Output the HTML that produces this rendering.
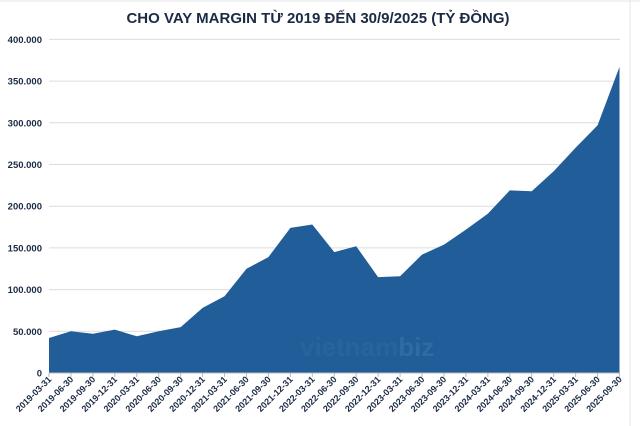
<!DOCTYPE html>
<html><head><meta charset="utf-8"><style>
html,body{margin:0;padding:0;background:#fff;}
body{width:640px;height:426px;overflow:hidden;font-family:"Liberation Sans",Arial,sans-serif;}
</style></head><body>
<svg id="s" width="640" height="426" xmlns="http://www.w3.org/2000/svg" style="display:block">
<rect x="0" y="0" width="640" height="426" fill="#fff"/>
<line x1="0" y1="1" x2="640" y2="1" stroke="#e6e6e6"/>
<line x1="630" y1="0" x2="630" y2="426" stroke="#e6e6e6"/>
<text x="318" y="23" text-anchor="middle" font-family="Liberation Sans, Arial, sans-serif" font-weight="bold" font-size="15" fill="#1b2a45">CHO VAY MARGIN TỪ 2019 ĐẾN 30/9/2025 (TỶ ĐỒNG)</text>
<g id="g"></g>
</svg>
<script>
var vals=[42,50,47,52,44,50,55,78,92,125,139,174,178,145,152,115,116,142,154,172,191,219,218,242,270,297,367];
var labs=[];for(var y=2019;y<=2025;y++){["03-31","06-30","09-30","12-31"].forEach(function(q){labs.push(y+"-"+q)})}
labs=labs.slice(0,27);
var x0=49,x1=619.5,step=(x1-x0)/26,base=373,k=41.7/50;
var h='';
for(var i=0;i<=8;i++){var yy=base-i*50*k;h+='<line x1="49" x2="620" y1="'+yy+'" y2="'+yy+'" stroke="#dcdcdc" stroke-width="1"/>';
h+='<text x="42" y="'+(yy+3.5)+'" text-anchor="end" font-size="9.5" font-weight="bold" fill="#1b2a45">'+(i==0?'0':(i*50)+'.000')+'</text>';}
var p='M'+x0+','+base;
vals.forEach(function(v,i){p+=' L'+(x0+i*step).toFixed(1)+','+(base-v*k).toFixed(1)});
p+=' L'+x1+','+base+' Z';
h+='<path d="'+p+'" fill="#215d99"/>';
h+='<line x1="49" x2="620" y1="'+base+'" y2="'+base+'" stroke="#bbb"/>';
h+='<text x="300" y="356" font-size="26" font-weight="bold" fill="#2f679f" opacity="0.6">vietnam<tspan fill="#3a74ad">biz</tspan></text>';
labs.forEach(function(l,i){var x=x0+i*step;
h+='<line x1="'+x+'" x2="'+x+'" y1="373" y2="377" stroke="#bbb"/>';
h+='<text transform="translate('+(x+3)+',380) rotate(-45)" text-anchor="end" font-size="9" font-weight="bold" fill="#1b2a45">'+l+'</text>';});
document.getElementById('g').innerHTML=h;
</script>
</body></html>
